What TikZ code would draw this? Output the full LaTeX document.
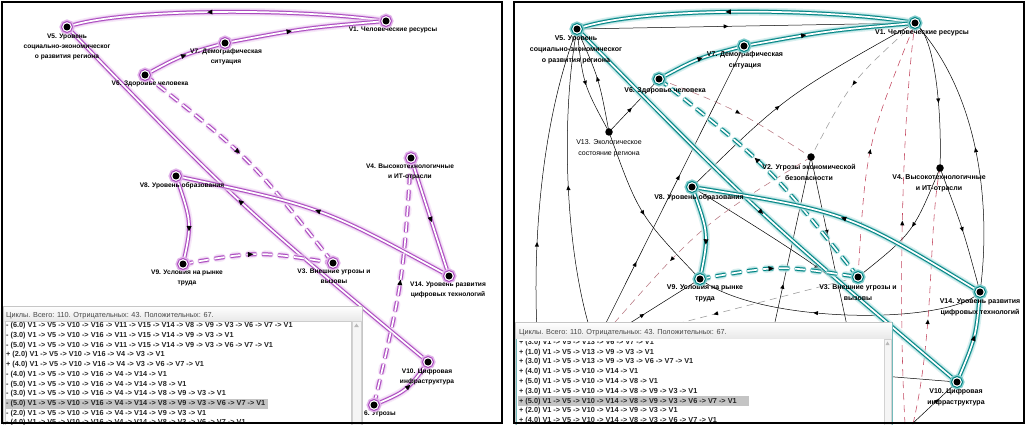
\documentclass[tikz,border=0pt]{standalone}
\usepackage{fontspec}
\setmainfont{Liberation Sans}
\usetikzlibrary{decorations.markings}
\definecolor{pline}{RGB}{170,75,190}
\definecolor{pglow}{RGB}{226,180,234}
\definecolor{tline}{RGB}{0,130,130}
\definecolor{tglow}{RGB}{130,205,205}
\definecolor{dred}{RGB}{195,70,95}
\definecolor{dgray}{RGB}{155,155,155}
\definecolor{drgray}{RGB}{185,120,130}
\definecolor{hlrow}{RGB}{196,196,196}
\definecolor{rowtext}{RGB}{35,35,35}
\definecolor{ttltext}{RGB}{70,70,70}
\newcommand\lblfontL{\fontsize{6.6}{10}\selectfont\bfseries}
\newcommand\lblfontR{\fontsize{7}{11}\selectfont\bfseries}
\newcommand\lblfontRn{\fontsize{7}{11}\selectfont}
\newcommand\rowfnt{\fontsize{7.3}{9}\selectfont\bfseries}
\newcommand\titfnt{\fontsize{7.3}{9}\selectfont}
\pgfdeclarelayer{bgl}\pgfdeclarelayer{lab}\pgfdeclarelayer{edg}\pgfdeclarelayer{fg}
\pgfsetlayers{bgl,edg,lab,main,fg}
\begin{document}
\begin{tikzpicture}[x=1pt,y=-1pt,
  hl/.style={preaction={draw=#1glow!60, line width=8pt, opacity=0.5}, preaction={draw=#1glow, line width=5pt}, draw=#1line, line width=1pt, double=white, double distance=1.7pt},
  hld/.style={preaction={draw=#1glow!60, line width=8pt, opacity=0.5, line cap=round, dash pattern=on 5pt off 11pt, dash phase=13.5pt}, preaction={draw=#1glow, line width=5pt, line cap=round, dash pattern=on 7pt off 9pt, dash phase=14.5pt}, draw=#1line, line width=1pt, double=white, double distance=1.7pt, dash pattern=on 10pt off 6pt},
  mk/.style={postaction={decorate, decoration={markings, mark=at position #1 with {\fill[black] (3pt,0pt) -- (-2.4pt,2.5pt) -- (-2.4pt,-2.5pt) -- cycle;}}}},
  mkr/.style={postaction={decorate, decoration={markings, mark=at position #1 with {\fill[black] (-3pt,0pt) -- (2.4pt,2.5pt) -- (2.4pt,-2.5pt) -- cycle;}}}},
  smk/.style={postaction={decorate, decoration={markings, mark=at position #1 with {\fill[black] (2.6pt,0pt) -- (-2pt,2.1pt) -- (-2pt,-2.1pt) -- cycle;}}}},
  thinl/.style={draw=black, line width=0.5pt},
  dr/.style={draw=dred, line width=0.55pt, dash pattern=on 7pt off 5pt},
  dg/.style={draw=dgray, line width=0.55pt, dash pattern=on 7pt off 5pt},
  drg/.style={draw=drgray, line width=0.55pt, dash pattern=on 7pt off 5pt},
  cyc/.style={circle, inner sep=0pt, minimum size=11pt, fill=white, draw=#1line, line width=1pt, preaction={draw=#1glow, line width=4pt}, path picture={\fill[black] (path picture bounding box.center) circle (3.5pt);}},
  dotn/.style={circle, fill=black, inner sep=0pt, minimum size=7.5pt},
  lbl/.style={align=center, inner sep=0pt, anchor=north},
  row/.style={anchor=west, inner sep=0pt, font=\rowfnt, text=rowtext},
  ttl/.style={anchor=west, inner sep=0pt, font=\titfnt, text=ttltext}
]
\useasboundingbox (0,0) rectangle (1026,425);
\begin{pgfonlayer}{bgl}
\fill[white] (0,0) rectangle (1026,425);
\end{pgfonlayer}

% ---------- left panel nodes ----------
\node[cyc=p] (L1) at (386,21) {};
\node[cyc=p] (L5) at (67,27) {};
\node[cyc=p] (L7) at (225,43) {};
\node[cyc=p] (L6) at (145,75) {};
\node[cyc=p] (L4) at (411,158) {};
\node[cyc=p] (L8) at (176,176) {};
\node[cyc=p] (L9) at (183,264) {};
\node[cyc=p] (L3) at (333,263) {};
\node[cyc=p] (L14) at (449,276) {};
\node[cyc=p] (L10) at (428,362) {};
\node[cyc=p] (L16) at (374,405) {};

% ---------- right panel nodes ----------
\node[cyc=t] (R1) at (915,23) {};
\node[cyc=t] (R5) at (577,29) {};
\node[cyc=t] (R7) at (744,46) {};
\node[cyc=t] (R6) at (659,79) {};
\node[dotn] (R13) at (609,132) {};
\node[dotn] (R2) at (811,157) {};
\node[dotn] (R4) at (940,168) {};
\node[cyc=t] (R8) at (692,187) {};
\node[cyc=t] (R9) at (700,279) {};
\node[cyc=t] (R3) at (858,277) {};
\node[cyc=t] (R14) at (980,292) {};
\node[cyc=t] (R10) at (957,382) {};
\coordinate (H1) at (595,345);
\coordinate (H2) at (548,424);
\coordinate (H3) at (770,345);
\coordinate (H5) at (870,375);
\coordinate (H6) at (850,340);
\coordinate (H7) at (912,424);
\coordinate (H8) at (905,424);
\coordinate (H9) at (913,424);

% ---------- labels ----------
\begin{pgfonlayer}{lab}
\node[lbl, font=\lblfontL] (L5t) at (67,34) {V5. Уровень\\социально-экономическог\\о развития региона};
\node[lbl, font=\lblfontL] (L1t) at (393,27) {V1. Человеческие ресурсы};
\node[lbl, font=\lblfontL] (L7t) at (226,49) {V7. Демографическая\\ситуация};
\node[lbl, font=\lblfontL] (L6t) at (150,81) {V6. Здоровье человека};
\node[lbl, font=\lblfontL] (L4t) at (410,164) {V4. Высокотехнологичные\\и ИТ-отрасли};
\node[lbl, font=\lblfontL] (L8t) at (182,182) {V8. Уровень образования};
\node[lbl, font=\lblfontL] (L9t) at (187,270) {V9. Условия на рынке\\труда};
\node[lbl, font=\lblfontL] (L3t) at (334,269) {V3. Внешние угрозы и\\вызовы};
\node[lbl, font=\lblfontL] (L14t) at (448,282) {V14. Уровень развития\\цифровых технологий};
\node[lbl, font=\lblfontL] (L10t) at (427,369) {V10. Цифровая\\инфраструктура};
\node[lbl, font=\lblfontL, anchor=north west] (L16t) at (364,411) {6. Угрозы};

\node[lbl, font=\lblfontR] (R5t) at (576,35) {V5. Уровень\\социально-экономическог\\о развития региона};
\node[lbl, font=\lblfontR] (R1t) at (922,29) {V1. Человеческие ресурсы};
\node[lbl, font=\lblfontR] (R7t) at (745,51) {V7. Демографическая\\ситуация};
\node[lbl, font=\lblfontR] (R6t) at (665,87) {V6. Здоровье человека};
\node[lbl, font=\lblfontRn] (R13t) at (609,139) {V13. Экологическое\\состояние региона};
\node[lbl, font=\lblfontR] (R2t) at (809,164) {V2. Угрозы экономической\\безопасности};
\node[lbl, font=\lblfontR] (R4t) at (939,174) {V4. Высокотехнологичные\\и ИТ-отрасли};
\node[lbl, font=\lblfontR] (R8t) at (699,194) {V8. Уровень образования};
\node[lbl, font=\lblfontR] (R9t) at (705,284) {V9. Условия на рынке\\труда};
\node[lbl, font=\lblfontR] (R3t) at (858,284) {V3. Внешние угрозы и\\вызовы};
\node[lbl, font=\lblfontR] (R14t) at (980,298) {V14. Уровень развития\\цифровых технологий};
\node[lbl, font=\lblfontR] (R10t) at (956,388) {V10. Цифровая\\инфраструктура};
\end{pgfonlayer}

% ---------- edges ----------
\begin{pgfonlayer}{edg}
% left panel (highlighted cycle)
\draw[hl=p, mk=0.55] (L1.center) .. controls (300,8) and (120,8) .. (L5.center);
\draw[hl=p, mk=0.4] (L7.center) .. controls (305,28) .. (L1.center);
\draw[hl=p, mk=0.5] (L6.center) .. controls (182,55) .. (L7.center);
\draw[hld=p, mk=0.45] (L6.center) .. controls (250,158) .. (L3.center);
\draw[hl=p, mkr=0.5] (L5.center) .. controls (238,204) .. (L10.center);
\draw[hl=p, mk=0.5] (L14.center) .. controls (322,207) .. (L8.center);
\draw[hl=p, mk=0.6] (L8.center) .. controls (192,223) .. (L9.center);
\draw[hld=p, mk=0.45] (L9.center) .. controls (258,251) .. (L3.center);
\draw[hl=p, mk=0.52] (L4.center) -- (L14.center);
\draw[hld=p, mk=0.5] (L16.center) .. controls (403,281) .. (L4.center);
\draw[hl=p, mk=0.55] (L16.center) .. controls (407,391) .. (L10.center);

% right panel: thin edges
\draw[thinl, smk=0.44] (R5.center) -- (R1.center);
\draw[thinl, smk=0.5] (R5.center) .. controls (583,84) .. (R13.center);
\draw[thinl, smk=0.5] (R13.center) .. controls (599,78.5) .. (R5.center);
\draw[thinl, smk=0.42] (R13.center) -- (R6.center);
\draw[thinl, smk=0.5] (R13.center) .. controls (639,215) .. (R9.center);
\draw[thinl, smk=0.45] (H2) .. controls (528,330) and (530,150) .. (R5.center);
\draw[thinl, smk=0.5] (H1) .. controls (565,260) and (560,120) .. (R5.center);
\draw[thinl, smk=0.55] (R1.center) .. controls (935,35) and (942,110) .. (R4.center);
\draw[thinl, smk=0.5] (R14.center) .. controls (990,220) and (985,100) .. (R1.center);
\draw[thinl, smk=0.5] (R4.center) .. controls (963,229) .. (R14.center);
\draw[thinl, smk=0.45] (R4.center) .. controls (913,233) .. (R3.center);
\draw[thinl, smk=0.41] (R2.center) -- (H6);
\draw[thinl, smk=0.31] (H3) -- (R2.center);
\draw[thinl, smk=0.42] (R8.center) .. controls (785.5,95.7) .. (R1.center);
\draw[thinl, smk=0.27, smk=0.56] (H1) -- (R7.center);
\draw[thinl, smk=0.45] (H1) -- (R9.center);
\draw[thinl, smk=0.58] (R14.center) .. controls (950,325) and (760,325) .. (R9.center);
\draw[thinl, smk=0.45] (R8.center) .. controls (832,274) .. (R10.center);
\draw[thinl] (H5) -- (R10.center);
\draw[thinl, smk=0.55] (H7) -- (R10.center);
% right panel: dashed edges
\draw[dg, smk=0.5] (R1.center) .. controls (851,81) .. (R2.center);
\draw[dr, smk=0.48] (R3.center) .. controls (866,145.5) .. (R1.center);
\draw[drg, smk=0.5] (R6.center) .. controls (737.7,110) .. (R2.center);
\draw[drg, smk=0.6] (R2.center) .. controls (699,226) .. (H1);
\draw[dg, smk=0.54] (R3.center) -- (H1);
\draw[dr, smk=0.5] (H8) .. controls (898,300) and (902,120) .. (R1.center);
\draw[dr, smk=0.4] (H9) .. controls (935,330) and (928,230) .. (R4.center);
% right panel: highlighted cycle
\draw[hl=t, mk=0.55] (R1.center) .. controls (830,8) and (640,6) .. (R5.center);
\draw[hl=t, mk=0.35] (R7.center) .. controls (829,30.5) .. (R1.center);
\draw[hl=t, mk=0.5] (R6.center) .. controls (698,58) .. (R7.center);
\draw[hl=t, mk=0.5] (R5.center) .. controls (759,214) .. (R10.center);
\draw[hld=t, mk=0.55] (R3.center) .. controls (770,167) .. (R6.center);
\draw[hl=t, mk=0.5] (R14.center) .. controls (848,212) .. (R8.center);
\draw[hl=t, mk=0.6] (R8.center) .. controls (709,234) .. (R9.center);
\draw[hld=t, mk=0.45] (R9.center) .. controls (779,265) .. (R3.center);
\draw[hl=t, mk=0.5] (R10.center) .. controls (976,337) .. (R14.center);
\end{pgfonlayer}

% ---------- lists and frames ----------
\begin{pgfonlayer}{fg}
% left list
\fill[gray!10] (3,306) rectangle (362,425);
\shade[top color=white, bottom color=gray!18] (3,306) rectangle (362,321);
\draw[gray!45, line width=0.6pt] (3,306) rectangle (362,425);
\fill[white] (5,321) rectangle (351,425);
\draw[gray!40, line width=0.5pt] (5,321) rectangle (351,425);
\fill[gray!8] (352,321) rectangle (361,425);
\draw[gray!35, line width=0.5pt] (352,321) rectangle (361,425);
\fill[gray!55] (356.5,323.5) -- (358.8,327) -- (354.2,327) -- cycle;
\fill[hlrow] (5.5,398.6) rectangle (268,408.6);
\node[ttl] (LTT) at (6,315.5) {Циклы. Всего: 110. Отрицательных: 43. Положительных: 67.};
\node[row] (LR1) at (6,326) {- (6.0) V1 -> V5 -> V10 -> V16 -> V11 -> V15 -> V14 -> V8 -> V9 -> V3 -> V6 -> V7 -> V1};
\node[row] (LR2) at (6,335.7) {- (3.0) V1 -> V5 -> V10 -> V16 -> V11 -> V15 -> V14 -> V9 -> V3 -> V1};
\node[row] (LR3) at (6,345.4) {- (5.0) V1 -> V5 -> V10 -> V16 -> V11 -> V15 -> V14 -> V9 -> V3 -> V6 -> V7 -> V1};
\node[row] (LR4) at (6,355.1) {+ (2.0) V1 -> V5 -> V10 -> V16 -> V4 -> V3 -> V1};
\node[row] (LR5) at (6,364.8) {+ (4.0) V1 -> V5 -> V10 -> V16 -> V4 -> V3 -> V6 -> V7 -> V1};
\node[row] (LR6) at (6,374.5) {- (4.0) V1 -> V5 -> V10 -> V16 -> V4 -> V14 -> V1};
\node[row] (LR7) at (6,384.2) {- (5.0) V1 -> V5 -> V10 -> V16 -> V4 -> V14 -> V8 -> V1};
\node[row] (LR8) at (6,393.9) {- (3.0) V1 -> V5 -> V10 -> V16 -> V4 -> V14 -> V8 -> V9 -> V3 -> V1};
\node[row] (LR9) at (6,403.6) {- (5.0) V1 -> V5 -> V10 -> V16 -> V4 -> V14 -> V8 -> V9 -> V3 -> V6 -> V7 -> V1};
\node[row] (LR10) at (6,413.3) {- (2.0) V1 -> V5 -> V10 -> V16 -> V4 -> V14 -> V9 -> V3 -> V1};
\node[row] (LR11) at (6,423) {- (4.0) V1 -> V5 -> V10 -> V16 -> V4 -> V14 -> V8 -> V3 -> V6 -> V7 -> V1};
% right list
\fill[gray!10] (515,322) rectangle (892,425);
\shade[top color=white, bottom color=gray!18] (515,322) rectangle (892,339);
\draw[gray!45, line width=0.6pt] (515,322) rectangle (892,425);
\fill[white] (517,339) rectangle (884,425);
\fill[gray!8] (884,339) rectangle (891,425);
\draw[gray!35, line width=0.5pt] (884,339) rectangle (891,425);
\fill[gray!55] (887.5,341.5) -- (889.5,345) -- (885.5,345) -- cycle;
\draw[tline!55, line width=0.7pt] (516.5,339) -- (516.5,425);
\draw[tline!55, line width=0.7pt] (892,322) -- (892,425);
\fill[hlrow] (518,396.2) rectangle (749,406.2);
\node[ttl] (RTT) at (519,332.5) {Циклы. Всего: 110. Отрицательных: 43. Положительных: 67.};
\begin{scope}
\clip (517,341) rectangle (884,425);
\node[row] (RR1) at (519,342.4) {+ (3.0) V1 -> V5 -> V13 -> V6 -> V7 -> V1};
\node[row] (RR2) at (519,352.2) {+ (1.0) V1 -> V5 -> V13 -> V9 -> V3 -> V1};
\node[row] (RR3) at (519,362) {+ (3.0) V1 -> V5 -> V13 -> V9 -> V3 -> V6 -> V7 -> V1};
\node[row] (RR4) at (519,371.8) {+ (4.0) V1 -> V5 -> V10 -> V14 -> V1};
\node[row] (RR5) at (519,381.6) {+ (5.0) V1 -> V5 -> V10 -> V14 -> V8 -> V1};
\node[row] (RR6) at (519,391.4) {+ (3.0) V1 -> V5 -> V10 -> V14 -> V8 -> V9 -> V3 -> V1};
\node[row] (RR7) at (519,401.2) {+ (5.0) V1 -> V5 -> V10 -> V14 -> V8 -> V9 -> V3 -> V6 -> V7 -> V1};
\node[row] (RR8) at (519,411) {+ (2.0) V1 -> V5 -> V10 -> V14 -> V9 -> V3 -> V1};
\node[row] (RR9) at (519,420.8) {+ (4.0) V1 -> V5 -> V10 -> V14 -> V8 -> V3 -> V6 -> V7 -> V1};
\end{scope}
% panel frames
\draw[black, line width=1.6pt] (2,2) rectangle (502,423);
\draw[black, line width=1.6pt] (514,2) rectangle (1024,423);
\end{pgfonlayer}
\end{tikzpicture}
\end{document}
